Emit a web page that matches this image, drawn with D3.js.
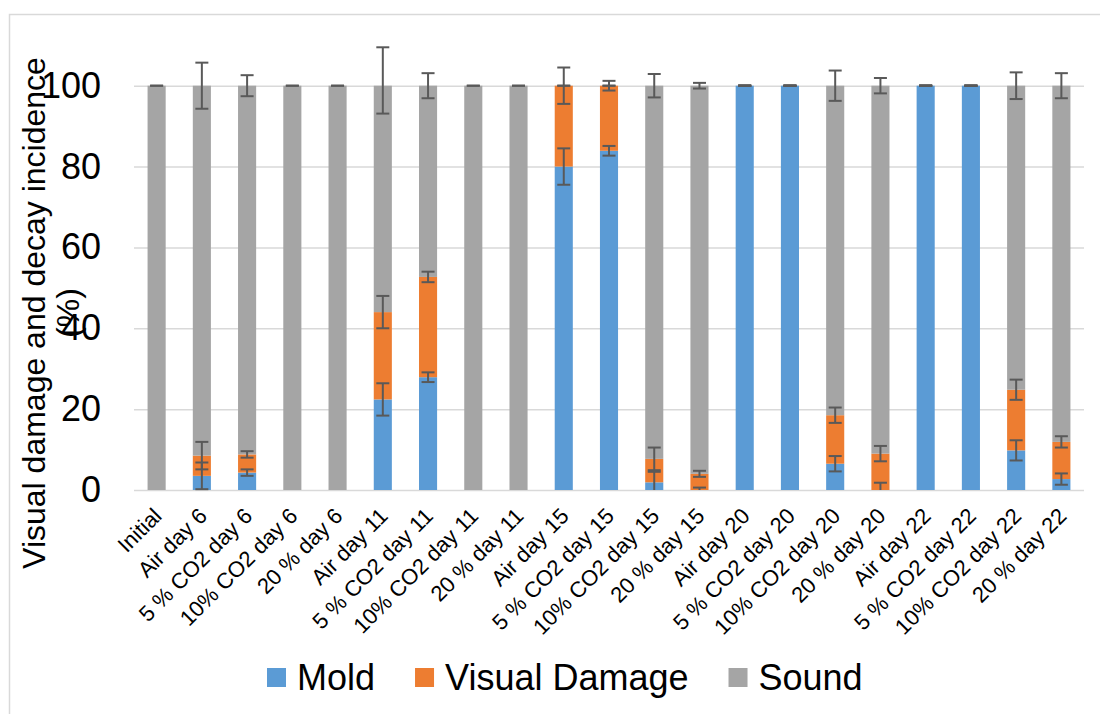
<!DOCTYPE html>
<html><head><meta charset="utf-8">
<script src="https://cdn.jsdelivr.net/npm/d3@7"></script>
<style>body{margin:0;background:#fff} svg text{font-family:Arial,"Liberation Sans",sans-serif;fill:#000}</style>
</head><body><svg id="c" width="1100" height="714"></svg>
<script>
const categories = ["Initial","Air day 6","5 % CO2 day 6","10% CO2 day 6","20 % day 6",
  "Air day 11","5 % CO2 day 11","10% CO2 day 11","20 % day 11",
  "Air day 15","5 % CO2 day 15","10% CO2 day 15","20 % day 15",
  "Air day 20","5 % CO2 day 20","10% CO2 day 20","20 % day 20",
  "Air day 22","5 % CO2 day 22","10% CO2 day 22","20 % day 22"];
const mold         = [0, 3.5, 4.3, 0, 0, 22.4, 27.9, 0, 0, 80.0, 83.9, 1.9, 0,   100, 100, 6.5, 0,   100, 100, 9.8, 2.7];
const visualDamage = [0, 5.0, 4.5, 0, 0, 21.6, 24.8, 0, 0, 20.0, 16.1, 5.8, 4.0, 0,   0,   12.0, 9.0, 0,   0,   15.0, 9.2];
const sound        = [100, 91.5, 91.2, 100, 100, 56.0, 47.3, 100, 100, 0, 0, 92.3, 96.0, 0, 0, 81.5, 91.0, 0, 0, 75.2, 88.1];
const moldErr      = [0, 3.3, 0.8, 0, 0, 4.0, 1.2, 0, 0, 4.5, 1.2, 2.6, 0.6, 0, 0, 1.9, 1.8, 0, 0, 2.5, 1.4];
const visualErr    = [0, 3.4, 0.8, 0, 0, 4.0, 1.3, 0, 0, 4.5, 1.2, 2.8, 0.75, 0, 0, 1.9, 1.9, 0, 0, 2.5, 1.4];
const soundErrPlus = [0, 5.7, 2.6, 0, 0, 9.5, 3.1, 0, 0, 0, 0, 2.9, 0.7, 0, 0, 3.75, 1.9, 0, 0, 3.3, 3.1];
const soundErrMinus= [0, 5.7, 2.6, 0, 0, 6.9, 3.1, 0, 0, 0, 0, 2.9, 0.7, 0, 0, 3.75, 1.9, 0, 0, 3.3, 3.1];
const yTicks = [0, 20, 40, 60, 80, 100];
const seriesNames = ["Mold", "Visual Damage", "Sound"];
const seriesColors = ["#5B9BD5", "#ED7D31", "#A5A5A5"];
const yTitleLines = ["Visual damage and decay incidence", "(%)"];

const valueArrays = [mold, visualDamage, sound];
const errPlus = [moldErr, visualErr, soundErrPlus];
const errMinus = [moldErr, visualErr, soundErrMinus];
const table = categories.map((c, i) => {
  const row = {cat: c};
  seriesNames.forEach((s, k) => row[s] = valueArrays[k][i]);
  return row;
});

const svg = d3.select("#c");
const L = 134, R = 1084, B = 490, T = 85.7;

// chart border
svg.append("path").attr("d", "M9.5,714 V14.5 H1100")
  .attr("fill", "none").attr("stroke", "#D9D9D9").attr("stroke-width", 1.5);

const x = d3.scaleBand().domain(categories).range([L, R]).paddingInner(0.6).paddingOuter(0.3);
const y = d3.scaleLinear().domain([0, 100]).range([B, T]);

// gridlines + y tick labels
const gy = svg.append("g").attr("transform", `translate(${L},0)`)
  .call(d3.axisLeft(y).tickValues(yTicks).tickSize(-(R - L)).tickPadding(33).tickFormat(d3.format("d")));
gy.select(".domain").remove();
gy.selectAll(".tick line").attr("stroke", "#D9D9D9").attr("stroke-width", 1.5);
gy.selectAll(".tick text").attr("font-size", 36).attr("fill", "#000")
  .attr("font-family", "Arial, 'Liberation Sans', sans-serif");

// stacked bars
const stacked = d3.stack().keys(seriesNames)(table);
svg.append("g").selectAll("g").data(stacked).join("g")
  .attr("fill", (d, k) => seriesColors[k])
  .selectAll("rect").data(d => d).join("rect")
  .attr("x", d => x(d.data.cat))
  .attr("width", x.bandwidth())
  .attr("y", d => y(d[1]))
  .attr("height", d => y(d[0]) - y(d[1]));

// error bars
const eg = svg.append("g").attr("stroke", "#595959").attr("stroke-width", 2).attr("fill", "none");
const capW = 13;
stacked.forEach((layer, k) => {
  layer.forEach((d, i) => {
    const top = d[1], ep = errPlus[k][i], em = errMinus[k][i];
    const hi = top + ep, lo = Math.max(top - em, 0);
    const cx = x(d.data.cat) + x.bandwidth() / 2;
    if (hi <= 0.001) return;
    eg.append("line").attr("x1", cx).attr("x2", cx).attr("y1", y(hi)).attr("y2", y(lo));
    eg.append("line").attr("x1", cx - capW / 2).attr("x2", cx + capW / 2).attr("y1", y(hi)).attr("y2", y(hi));
    if (top - em > 0.001)
      eg.append("line").attr("x1", cx - capW / 2).attr("x2", cx + capW / 2).attr("y1", y(top - em)).attr("y2", y(top - em));
  });
});

// x category labels
svg.append("g").selectAll("text").data(categories).join("text")
  .attr("transform", d => `translate(${x(d) + x.bandwidth() / 2 + 1},${B + 22}) rotate(-45)`)
  .attr("text-anchor", "end").attr("dy", "0.35em").attr("font-size", 22)
  .text(d => d);

// y axis title
const yt = svg.append("text").attr("transform", "translate(0,313) rotate(-90)")
  .attr("text-anchor", "middle").attr("font-size", 32);
yTitleLines.forEach((t, i) => yt.append("tspan").attr("x", 0).attr("y", 45 + i * 34).text(t));

// legend
let lx = 267;
const lg = svg.append("g");
seriesNames.forEach((s, k) => {
  lg.append("rect").attr("x", lx).attr("y", 668).attr("width", 19).attr("height", 19).attr("fill", seriesColors[k]);
  const t = lg.append("text").attr("x", lx + 30).attr("y", 690).attr("font-size", 36).text(s);
  lx += 30 + t.node().getComputedTextLength() + 40;
});
</script></body></html>
